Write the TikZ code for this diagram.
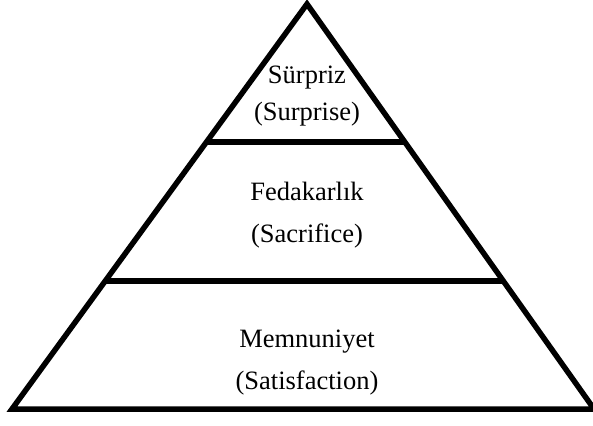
\documentclass[tikz,border=0pt]{standalone}
\usepackage{fontspec}
\setmainfont{Liberation Serif}
\usetikzlibrary{calc}
\begin{document}
\begin{tikzpicture}[x=1pt,y=-1pt,
  edge/.style={line width=5.5pt,line join=miter,line cap=butt},
  lbl/.style={font=\fontsize{26.5}{30}\selectfont,inner sep=0pt,anchor=base}]
\useasboundingbox (0,0) rectangle (593,425);
\coordinate (apex) at (307,4);
\coordinate (bl) at (12,409);
\coordinate (br) at (594,409);
\draw[edge] (apex) -- (bl) -- (br) -- cycle;
\coordinate (l1) at ($(apex)!{138/405}!(bl)$);
\coordinate (r1) at ($(apex)!{138/405}!(br)$);
\coordinate (l2) at ($(apex)!{277/405}!(bl)$);
\coordinate (r2) at ($(apex)!{277/405}!(br)$);
\draw[edge] (l1) -- (r1);
\draw[edge] (l2) -- (r2);
\node[lbl] (t1) at (307,84) {Sürpriz};
\node[lbl] (t2) at (307,121) {(Surprise)};
\node[lbl] (t3) at (307,200) {Fedakarlık};
\node[lbl] (t4) at (307,242) {(Sacrifice)};
\node[lbl] (t5) at (307,347) {Memnuniyet};
\node[lbl] (t6) at (307,389) {(Satisfaction)};
\end{tikzpicture}
\end{document}
